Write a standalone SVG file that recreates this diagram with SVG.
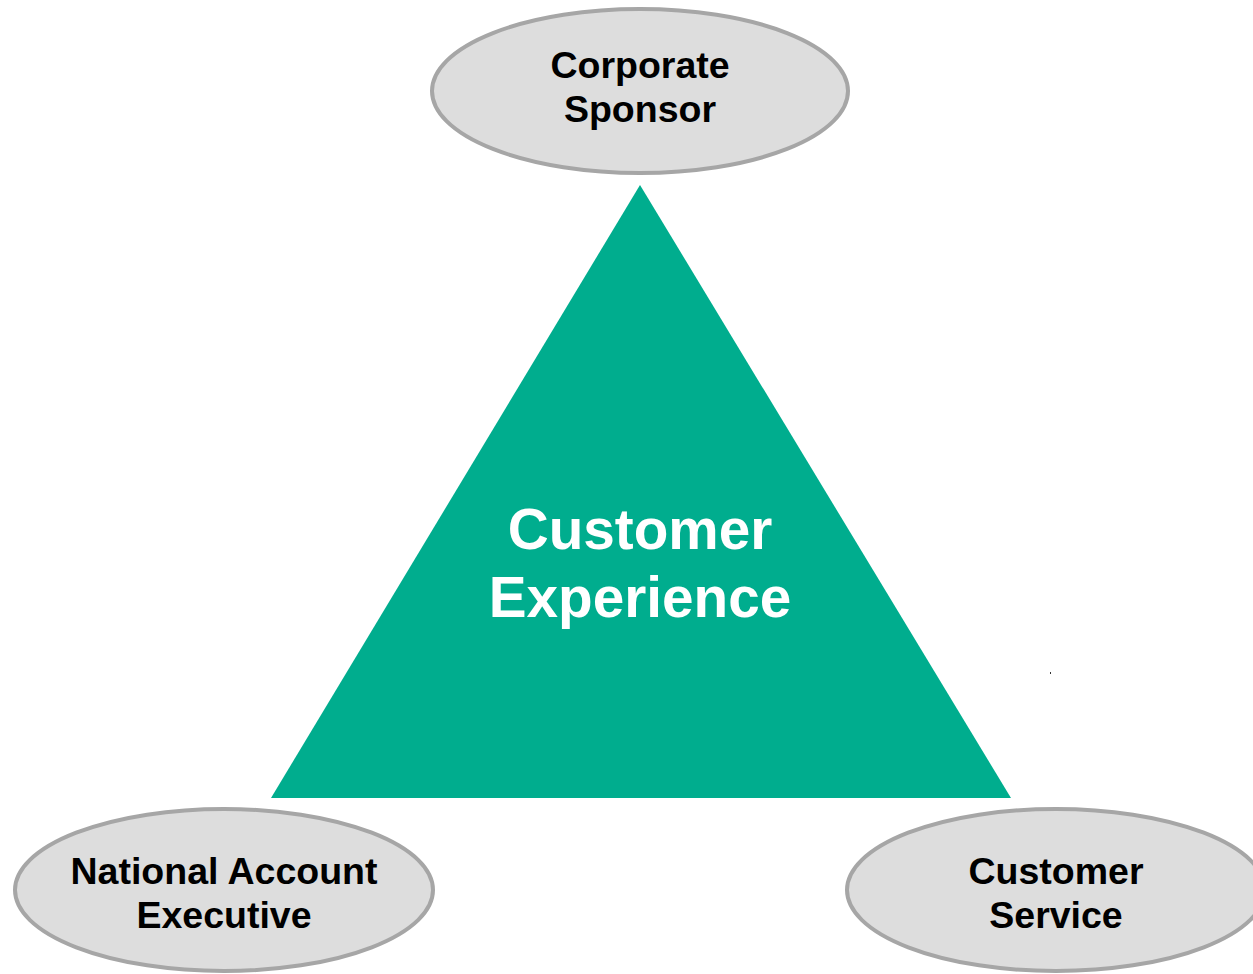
<svg xmlns="http://www.w3.org/2000/svg" width="1253" height="974" viewBox="0 0 1253 974">
<style>
.role{fill:#dddddd;stroke:#a6a6a6;stroke-width:4}
.lbl{font-family:"Liberation Sans",Arial,sans-serif;font-weight:bold;font-size:37.5px;fill:#000;text-anchor:middle}
.big{font-family:"Liberation Sans",Arial,sans-serif;font-weight:bold;font-size:56.7px;fill:#fff;text-anchor:middle}
</style>
<rect width="1253" height="974" fill="#ffffff"/>
<g id="customer-experience">
<polygon points="640,185 1011,798 271,798" fill="#00ad8e"/>
<text class="big" x="640" y="549">Customer</text>
<text class="big" x="640" y="617">Experience</text>
</g>
<g id="corporate-sponsor">
<ellipse class="role" cx="640" cy="91" rx="208" ry="82"/>
<text class="lbl" x="640" y="78">Corporate</text>
<text class="lbl" x="640" y="122">Sponsor</text>
</g>
<g id="national-account-executive">
<ellipse class="role" cx="224" cy="890" rx="209" ry="81"/>
<text class="lbl" x="224" y="884">National Account</text>
<text class="lbl" x="224" y="928">Executive</text>
</g>
<g id="customer-service">
<ellipse class="role" cx="1056" cy="890" rx="209" ry="81"/>
<text class="lbl" x="1056" y="884">Customer</text>
<text class="lbl" x="1056" y="928">Service</text>
</g>
<g id="connectors"></g>
<rect x="1050" y="672" width="1" height="2" fill="#333"/>
</svg>
